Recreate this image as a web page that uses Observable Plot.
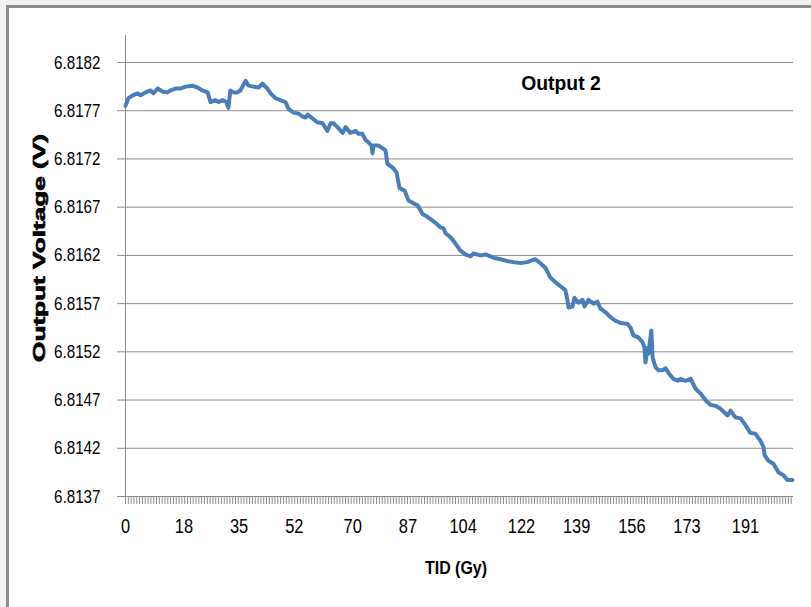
<!DOCTYPE html>
<html>
<head>
<meta charset="utf-8">
<script src="https://cdn.jsdelivr.net/npm/d3@7"></script>
<script src="https://cdn.jsdelivr.net/npm/@observablehq/plot@0.6"></script>
<style>
  body { margin: 0; background: #f2f2f2; }
  #wrap { position: relative; width: 811px; height: 607px; overflow: hidden; }
  #frame { position: absolute; left: 6px; top: 5px; right: -10px; bottom: -10px;
           background: #fff; border-left: 3px solid #8c8c8c; border-top: 3px solid #8c8c8c; }
  #chart { position: absolute; left: 0; top: 0; }
</style>
</head>
<body>
<div id="wrap"><div id="frame"></div><div id="chart"></div></div>
<script>
// Total ionising dose (Gy) and measured output voltage (V)
const tid = [
  0, 0.9, 2.2, 3.7, 4.6, 6.2, 7.7, 8.6, 9.9, 11.4, 12.9, 13.9, 15.4, 16.9, 18.5, 20.6, 22.2, 23.7, 25.3, 26.2,
  27.7, 28.7, 29.9, 31.1, 31.7, 32.3, 33.3, 34.5, 35.4, 37.0, 37.9, 39.4, 41.0, 42.2, 43.7, 44.7, 46.2, 47.7, 49.3, 50.2,
  51.8, 53.3, 54.5, 55.5, 56.1, 57.6, 59.1, 60.7, 62.2, 63.2, 64.1, 65.3, 66.9, 67.8, 69.3, 70.9, 71.8, 73.0, 73.9, 74.9,
  75.8, 76.1, 76.4, 77.9, 79.2, 80.1, 80.7, 82.3, 83.5, 84.4, 86.0, 87.2, 88.7, 90.0, 91.5, 93.0, 94.6, 96.1, 97.0, 98.0,
  98.6, 100.1, 101.7, 103.2, 104.7, 106.3, 107.2, 109.4, 110.9, 112.4, 114.0, 115.5, 117.7, 119.5, 121.7, 123.8, 125.4, 126.3, 127.8, 129.4,
  130.9, 132.5, 134.0, 135.5, 136.2, 136.5, 137.7, 138.3, 139.6, 140.8, 141.4, 142.6, 144.2, 145.4, 146.3, 147.9, 149.4, 151.0, 152.5, 154.7,
  155.6, 156.5, 158.0, 159.3, 159.9, 160.2, 160.8, 161.1, 162.0, 162.4, 163.3, 164.2, 165.4, 166.4, 167.3, 168.8, 170.1, 171.0, 172.5, 174.1,
  175.6, 177.1, 178.7, 180.2, 181.8, 183.3, 185.5, 186.4, 187.9, 189.5, 191.0, 192.5, 194.1, 195.6, 196.6, 196.9, 198.1, 199.6, 201.2, 202.7,
  203.9, 205.5
];
const volts = [
  6.81775, 6.81783, 6.81786, 6.81788, 6.81786, 6.81789, 6.81791, 6.81788, 6.81793, 6.81790, 6.81789, 6.81791, 6.81793, 6.81793, 6.81795, 6.81796, 6.81794, 6.81791, 6.81789, 6.81779,
  6.81781, 6.81779, 6.81781, 6.81779, 6.81773, 6.81791, 6.81789, 6.81789, 6.81791, 6.81801, 6.81796, 6.81795, 6.81794, 6.81798, 6.81793, 6.81788, 6.81783, 6.81781, 6.81779, 6.81772,
  6.81768, 6.81767, 6.81764, 6.81763, 6.81766, 6.81762, 6.81758, 6.81757, 6.81749, 6.81757, 6.81757, 6.81753, 6.81747, 6.81753, 6.81747, 6.81749, 6.81746, 6.81746, 6.81740, 6.81737,
  6.81734, 6.81726, 6.81734, 6.81734, 6.81731, 6.81729, 6.81715, 6.81711, 6.81706, 6.81690, 6.81687, 6.81677, 6.81674, 6.81672, 6.81663, 6.81660, 6.81656, 6.81652, 6.81649, 6.81648,
  6.81643, 6.81639, 6.81632, 6.81625, 6.81621, 6.81619, 6.81622, 6.81620, 6.81621, 6.81619, 6.81617, 6.81616, 6.81614, 6.81613, 6.81612, 6.81613, 6.81615, 6.81616, 6.81612, 6.81607,
  6.81597, 6.81592, 6.81588, 6.81584, 6.81573, 6.81566, 6.81567, 6.81576, 6.81571, 6.81574, 6.81567, 6.81574, 6.81570, 6.81572, 6.81565, 6.81561, 6.81556, 6.81552, 6.81550, 6.81549,
  6.81545, 6.81537, 6.81535, 6.81530, 6.81524, 6.81509, 6.81524, 6.81518, 6.81542, 6.81514, 6.81504, 6.81501, 6.81501, 6.81503, 6.81498, 6.81492, 6.81490, 6.81492, 6.81490, 6.81492,
  6.81482, 6.81477, 6.81470, 6.81465, 6.81464, 6.81461, 6.81454, 6.81459, 6.81452, 6.81451, 6.81444, 6.81436, 6.81435, 6.81428, 6.81421, 6.81413, 6.81407, 6.81404, 6.81395, 6.81392,
  6.81387, 6.81387
];

// Axis ticks
const yTicks = [6.8137, 6.8142, 6.8147, 6.8152, 6.8157, 6.8162, 6.8167, 6.8172, 6.8177, 6.8182];
const xTicks = [0, 18, 35, 52, 70, 87, 104, 122, 139, 156, 173, 191];
const seriesName = "Output 2";
const xTitle = "TID (Gy)";
const yTitle = "Output Voltage (V)";

const data = tid.map((t, i) => ({ tid: t, v: volts[i] }));
// one short tick mark per dose step along the category axis
const minorTicks = d3.range(0, 205.9, 0.869);

const grey = "#8c8c8c";
const sans = "'Liberation Sans', Arial, sans-serif";

const chart = Plot.plot({
  width: 811,
  height: 607,
  marginLeft: 125,
  marginRight: 18,
  marginTop: 35,
  marginBottom: 111,
  style: { background: "transparent", fontFamily: sans, color: "#000", overflow: "visible" },
  x: { domain: [0, 205.8] },
  y: { domain: [6.8137, 6.81848] },
  marks: [
    Plot.ruleY(yTicks, { stroke: grey, strokeWidth: 1 }),
    Plot.ruleX([0], { stroke: grey, strokeWidth: 1 }),
    Plot.axisY({ ticks: yTicks, tickFormat: d3.format(".4f"), tickSize: 8, tickPadding: 17,
                 stroke: grey, fontSize: 19, label: null, ariaLabel: "y-axis" }),
    Plot.axisX({ ticks: minorTicks, tickSize: 8, tickFormat: () => "", stroke: grey, strokeWidth: 1, label: null }),
    Plot.axisX({ ticks: xTicks, tickSize: 0, tickPadding: 22, fontSize: 20.5, label: null }),
    Plot.line(data, { x: "tid", y: "v", stroke: "#4a7ebb", strokeWidth: 4, strokeLinejoin: "round", strokeLinecap: "round" })
  ]
});

const svg = d3.select(chart);
const series = svg.append("text")
  .attr("x", 561).attr("y", 90)
  .attr("text-anchor", "middle")
  .style("font-family", sans).style("font-weight", "bold").style("font-size", "21px")
  .text(seriesName);
const xLabel = svg.append("text")
  .attr("x", 456).attr("y", 574)
  .attr("text-anchor", "middle")
  .style("font-family", sans).style("font-weight", "bold").style("font-size", "19px")
  .text(xTitle);
svg.append("text")
  .attr("transform", "translate(45,248) rotate(-90)")
  .attr("text-anchor", "middle")
  .attr("textLength", 228).attr("lengthAdjust", "spacingAndGlyphs")
  .style("font-family", sans).style("font-weight", "bold").style("font-size", "16px")
  .style("stroke", "#000").style("stroke-width", "0.6px")
  .text(yTitle);

document.getElementById("chart").appendChild(chart);

// Condensed lettering: squeeze each label horizontally
function condense(nodes, k) {
  nodes.forEach((n) => {
    const w = n.getComputedTextLength();
    if (w > 0) {
      n.setAttribute("textLength", (w * k).toFixed(1));
      n.setAttribute("lengthAdjust", "spacingAndGlyphs");
    }
  });
}
const axisTexts = Array.from(chart.querySelectorAll("g[aria-label$='tick label'] text"));
condense(axisTexts, 0.8);
condense([series.node()], 0.92);
condense([xLabel.node()], 0.84);
</script>
</body>
</html>
